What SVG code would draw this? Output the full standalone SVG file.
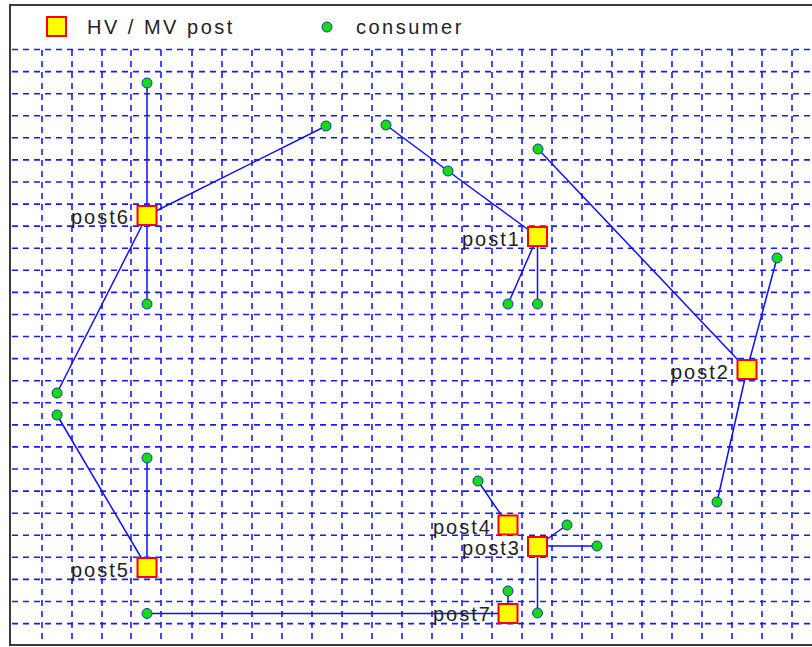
<svg xmlns="http://www.w3.org/2000/svg" width="812" height="647" viewBox="0 0 812 647">
<style>
.grid{fill:none;stroke:#1a1aff;stroke-width:1.6;stroke-dasharray:6 5}
.edge{stroke:#1010f0;stroke-width:1.5;fill:none}
.post{fill:#ffff00;stroke:#ff0000;stroke-width:2}
.cons{fill:#11dd11;stroke:#2233aa;stroke-width:1}
.lbl{font-family:"Liberation Sans",Arial,sans-serif;font-size:20px;letter-spacing:2px;fill:#222}
.leg{letter-spacing:2.5px}
</style>
<rect x="0" y="0" width="812" height="647" fill="#fff"/>
<rect x="10" y="5" width="820" height="640" fill="#fff" stroke="#3a3a3a" stroke-width="2"/>
<g id="grid">
<path class="grid" d="M12 49.5H812M12 71.6H812M12 93.7H812M12 115.7H812M12 137.8H812M12 159.9H812M12 182H812M12 204.1H812M12 226.1H812M12 248.2H812M12 270.3H812M12 292.4H812M12 314.5H812M12 336.5H812M12 358.6H812M12 380.7H812M12 402.8H812M12 424.9H812M12 446.9H812M12 469H812M12 491.1H812M12 513.2H812M12 535.3H812M12 557.3H812M12 579.4H812M12 601.5H812M12 623.6H812"/>
<path class="grid" d="M42 50V644M72 50V644M102 50V644M131 50V644M161 50V644M192 50V644M222 50V644M252 50V644M282 50V644M312 50V644M342 50V644M372 50V644M402 50V644M432 50V644M462 50V644M492 50V644M522 50V644M552 50V644M582 50V644M612 50V644M642 50V644M672 50V644M702 50V644M732 50V644M762 50V644M792 50V644"/>
</g>
<g id="legend">
<rect class="post" x="47" y="17" width="19" height="19"/>
<text class="lbl leg" x="87" y="34">HV / MV post</text>
<circle class="cons" cx="327" cy="27" r="5"/>
<text class="lbl leg" x="356" y="34">consumer</text>
</g>
<g id="connectors">
<line class="edge" x1="147" y1="215.5" x2="147" y2="83"/>
<line class="edge" x1="147" y1="215.5" x2="147" y2="304"/>
<line class="edge" x1="147" y1="215.5" x2="326" y2="126"/>
<line class="edge" x1="147" y1="215.5" x2="57" y2="393"/>
<line class="edge" x1="537.5" y1="236.5" x2="448" y2="171"/>
<line class="edge" x1="448" y1="171" x2="386" y2="125"/>
<line class="edge" x1="537.5" y1="236.5" x2="508" y2="304"/>
<line class="edge" x1="537.5" y1="236.5" x2="537.5" y2="304"/>
<line class="edge" x1="747" y1="369.5" x2="538" y2="149"/>
<line class="edge" x1="747" y1="369.5" x2="777" y2="258"/>
<line class="edge" x1="747" y1="369.5" x2="717" y2="502"/>
<line class="edge" x1="147" y1="567.5" x2="57" y2="415"/>
<line class="edge" x1="147" y1="567.5" x2="147" y2="458"/>
<line class="edge" x1="508" y1="613.5" x2="147" y2="613.5"/>
<line class="edge" x1="508" y1="613.5" x2="508" y2="591"/>
<line class="edge" x1="508" y1="525" x2="478" y2="481"/>
<line class="edge" x1="537.5" y1="546" x2="567" y2="525"/>
<line class="edge" x1="537.5" y1="546" x2="597" y2="546"/>
<line class="edge" x1="537.5" y1="546" x2="537.5" y2="613"/>
</g>
<g id="c1"><circle class="cons" cx="147" cy="83" r="5"/></g>
<g id="c2"><circle class="cons" cx="326" cy="126" r="5"/></g>
<g id="c3"><circle class="cons" cx="386" cy="125" r="5"/></g>
<g id="c4"><circle class="cons" cx="448" cy="171" r="5"/></g>
<g id="c5"><circle class="cons" cx="538" cy="149" r="5"/></g>
<g id="c6"><circle class="cons" cx="147" cy="304" r="5"/></g>
<g id="c7"><circle class="cons" cx="508" cy="304" r="5"/></g>
<g id="c8"><circle class="cons" cx="537.5" cy="304" r="5"/></g>
<g id="c9"><circle class="cons" cx="777" cy="258" r="5"/></g>
<g id="c10"><circle class="cons" cx="57" cy="393" r="5"/></g>
<g id="c11"><circle class="cons" cx="57" cy="415" r="5"/></g>
<g id="c12"><circle class="cons" cx="147" cy="458" r="5"/></g>
<g id="c13"><circle class="cons" cx="717" cy="502" r="5"/></g>
<g id="c14"><circle class="cons" cx="478" cy="481" r="5"/></g>
<g id="c15"><circle class="cons" cx="567" cy="525" r="5"/></g>
<g id="c16"><circle class="cons" cx="597" cy="546" r="5"/></g>
<g id="c17"><circle class="cons" cx="508" cy="591" r="5"/></g>
<g id="c18"><circle class="cons" cx="537.5" cy="613" r="5"/></g>
<g id="c19"><circle class="cons" cx="147" cy="613.5" r="5"/></g>
<g id="post6"><rect class="post" x="137.5" y="206" width="19" height="19"/><text class="lbl" x="71" y="224">post6</text></g>
<g id="post1"><rect class="post" x="528" y="227" width="19" height="19"/><text class="lbl" x="462" y="246">post1</text></g>
<g id="post2"><rect class="post" x="737.5" y="360" width="19" height="19"/><text class="lbl" x="671" y="379">post2</text></g>
<g id="post4"><rect class="post" x="498.5" y="515.5" width="19" height="19"/><text class="lbl" x="433" y="534">post4</text></g>
<g id="post3"><rect class="post" x="528" y="537" width="19" height="19"/><text class="lbl" x="462" y="555">post3</text></g>
<g id="post5"><rect class="post" x="137.5" y="558" width="19" height="19"/><text class="lbl" x="71" y="577">post5</text></g>
<g id="post7"><rect class="post" x="498.5" y="604" width="19" height="19"/><text class="lbl" x="433" y="621">post7</text></g>
</svg>
